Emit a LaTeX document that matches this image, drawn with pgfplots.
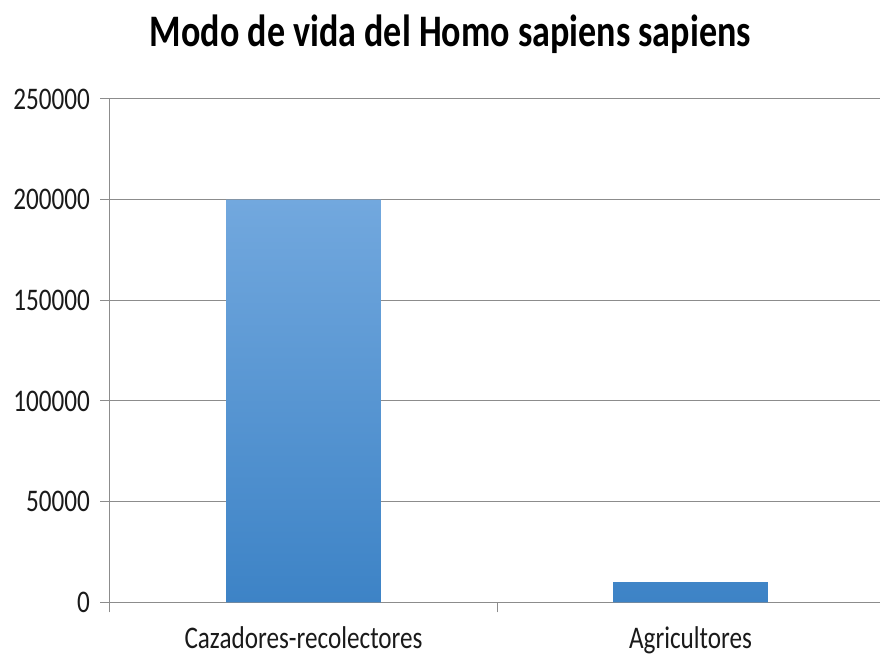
\documentclass[border=0pt]{standalone}
\usepackage{fontspec}
\setmainfont[FakeStretch=0.8]{Carlito}
\usepackage{pgfplots}
\pgfplotsset{compat=1.18}
\definecolor{gridgray}{HTML}{8C8C8C}
\definecolor{bartop}{HTML}{72A8DE}
\definecolor{barbot}{HTML}{3D83C6}
\definecolor{txt}{HTML}{1A1A1A}
\begin{document}
\begin{tikzpicture}
\path[use as bounding box] (-82.5pt,-43.3pt) rectangle (577.5pt,451.7pt);
\begin{axis}[
  at={(0,0)}, anchor=south west,
  scale only axis,
  width=600pt, height=377.5pt,
  xmin=-0.5, xmax=1.567,
  ymin=0, ymax=250000,
  ytick={0,50000,100000,150000,200000,250000},
  yticklabels={0,50000,100000,150000,200000,250000},
  scaled y ticks=false,
  ymajorgrids,
  grid style={draw=gridgray, line width=0.75pt},
  axis x line*=bottom, axis y line*=left,
  axis line style={draw=gridgray, line width=0.75pt},
  tick align=outside,
  major tick length=7.5pt,
  tick style={draw=gridgray, line width=0.75pt},
  xtick={-0.5,0.5},
  xticklabels={},
  extra x ticks={0,1},
  extra x tick labels={Cazadores-recolectores,Agricultores},
  extra x tick style={major tick length=0pt, tick style={draw=none}, xticklabel style={yshift=-15pt}},
  ticklabel style={font=\fontsize{23.6pt}{26pt}\selectfont, text=txt},
  yticklabel style={xshift=-4pt},
  title={\textbf{Modo de vida del Homo sapiens sapiens}},
  title style={at={(0.4254,1.113)}, anchor=center, font=\fontsize{33.8pt}{36pt}\selectfont, text=black},
  clip=false,
]
\addplot[ybar, bar width=0.4, draw=none, top color=bartop, bottom color=barbot]
  coordinates {(0,200000) (1,10000)};
\end{axis}
\end{tikzpicture}
\end{document}
